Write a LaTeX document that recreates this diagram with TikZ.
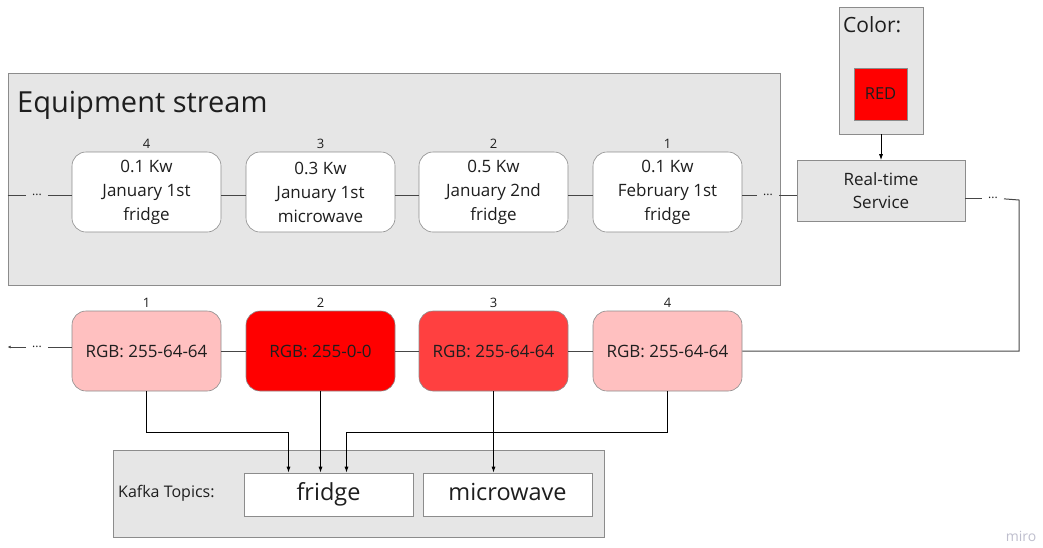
\documentclass[tikz,border=0pt]{standalone}
\usepackage{fontspec}
\setmainfont{Open Sans}
\definecolor{panelgray}{RGB}{230,230,230}
\definecolor{panelborder}{RGB}{140,140,140}
\definecolor{inkgray}{RGB}{30,30,30}
\definecolor{wiregray}{RGB}{70,70,70}
\definecolor{palered}{RGB}{255,192,192}
\definecolor{fullred}{RGB}{255,0,0}
\definecolor{midred}{RGB}{255,64,64}
\definecolor{miromark}{RGB}{190,190,205}
\usetikzlibrary{arrows.meta,positioning}

\begin{document}
\begin{tikzpicture}[x=1pt,y=-1pt,text=inkgray,
    panel/.style={fill=panelgray,draw=panelborder,line width=0.6pt,inner sep=0pt},
    event/.style={fill=white,draw=panelborder,line width=0.6pt,rounded corners=14pt,
      minimum width=149pt,minimum height=80pt,inner sep=0pt,align=center,
      font=\fontsize{17}{24}\selectfont},
    topic/.style={fill=white,draw=panelborder,line width=0.6pt,minimum width=169pt,
      minimum height=43pt,text height=17pt,text depth=5pt,
      font=\fontsize{23.5}{23.5}\selectfont},
    idx/.style={font=\fontsize{13}{13}\selectfont,inner sep=1pt},
    gap/.style={font=\fontsize{12}{12}\selectfont,inner xsep=6pt,inner ysep=2pt},
    wire/.style={draw=wiregray,line width=1pt},
    feed/.style={draw=black,line width=0.9pt,-{Latex[length=6pt,width=4pt]}}]
  \useasboundingbox (0,0) rectangle (1043,547);

  % equipment stream
  \node[panel,minimum width=772pt,minimum height=212pt] (stream) at (394,179) {};
  \node[anchor=west,font=\fontsize{29}{29}\selectfont,inner sep=0pt] at (17,105) {Equipment stream};
  \node[event] (e4) at (146.5,192) {0.1 Kw\\January 1st\\fridge};
  \node[event] (e3) at (320.5,192) {0.3 Kw\\January 1st\\microwave};
  \node[event] (e2) at (493.5,192) {0.5 Kw\\January 2nd\\fridge};
  \node[event] (e1) at (667.5,192) {0.1 Kw\\February 1st\\fridge};
  \node[idx,above=2pt of e4] {4};
  \node[idx,above=2pt of e3] {3};
  \node[idx,above=2pt of e2] {2};
  \node[idx,above=2pt of e1] {1};
  \node[gap] (sl) at (37,195) {...};
  \node[gap] (sr) at (768,195) {...};

  % colour and service
  \node[panel,minimum width=84pt,minimum height=127pt] (colorbox) at (881,70.5) {};
  \node[anchor=north west,font=\fontsize{21}{21}\selectfont,inner sep=0pt] at (843,16) {Color:};
  \node[fill=fullred,draw=panelborder,line width=0.6pt,minimum width=53pt,minimum height=52pt,
        font=\fontsize{16.5}{16.5}\selectfont] (red) at (880.5,94) {RED};
  \node[panel,minimum width=168pt,minimum height=61pt,align=center,
        font=\fontsize{17}{23}\selectfont] (rts) at (881,191) {Real-time\\Service};
  \node[gap] (sx) at (993,198) {...};
  \coordinate (bend) at (1019,200);

  % colour stream
  \node[event,fill=palered,font=\fontsize{17}{17}\selectfont] (c1) at (146.5,351) {RGB: 255-64-64};
  \node[event,fill=fullred,font=\fontsize{17}{17}\selectfont] (c2) at (320.5,351) {RGB: 255-0-0};
  \node[event,fill=midred,font=\fontsize{17}{17}\selectfont] (c3) at (493.5,351) {RGB: 255-64-64};
  \node[event,fill=palered,font=\fontsize{17}{17}\selectfont] (c4) at (667.5,351) {RGB: 255-64-64};
  \node[idx,above=2pt of c1] {1};
  \node[idx,above=2pt of c2] {2};
  \node[idx,above=2pt of c3] {3};
  \node[idx,above=2pt of c4] {4};
  \node[gap] (cl) at (37,347) {...};

  % kafka
  \node[panel,minimum width=491pt,minimum height=87pt] (kafka) at (358.5,493.5) {};
  \node[anchor=west,font=\fontsize{16}{16}\selectfont,inner sep=0pt] at (118,493) {Kafka Topics:};
  \node[topic] (fridge) at (328.5,494.5) {fridge};
  \node[topic] (micro) at (507.5,494.5) {microwave};

  % wires
  \draw[wire] (stream.west |- sl) -- (sl);
  \draw[wire] (sl) -- (e4.west |- sl);
  \draw[wire] (e4.east |- sl) -- (e3.west |- sl);
  \draw[wire] (e3.east |- sl) -- (e2.west |- sl);
  \draw[wire] (e2.east |- sl) -- (e1.west |- sl);
  \draw[wire] (e1.east |- sr) -- (sr);
  \draw[wire] (sr) -- (rts.west |- sr);
  \draw[wire] (rts.east |- sx) -- (sx);
  \draw[wire] (sx) -- (bend) -- (bend |- c4.east) -- (c4.east);
  \draw[wire] (c4.west) -- (c3.east);
  \draw[wire] (c3.west) -- (c2.east);
  \draw[wire] (c2.west) -- (c1.east);
  \draw[wire] (c1.west |- cl) -- (cl);
  \draw[wire,-{Latex[length=3pt,width=3pt]}] (cl) -- (stream.west |- cl);
  \draw[feed] (colorbox) -- (rts);
  \draw[feed] (c1.south) -- (c1.south |- 0,432) -| ([xshift=-40pt]fridge.north);
  \draw[feed] (c2.south) -- (c2.south |- fridge.north);
  \draw[feed] (c4.south) -- (c4.south |- 0,432) -| ([xshift=18pt]fridge.north);
  \draw[feed] (c3.south) -- (c3.south |- micro.north);

  \node[font=\fontsize{14}{14}\selectfont,text=miromark] (miro) at (1021,536) {miro};
\end{tikzpicture}
\end{document}
